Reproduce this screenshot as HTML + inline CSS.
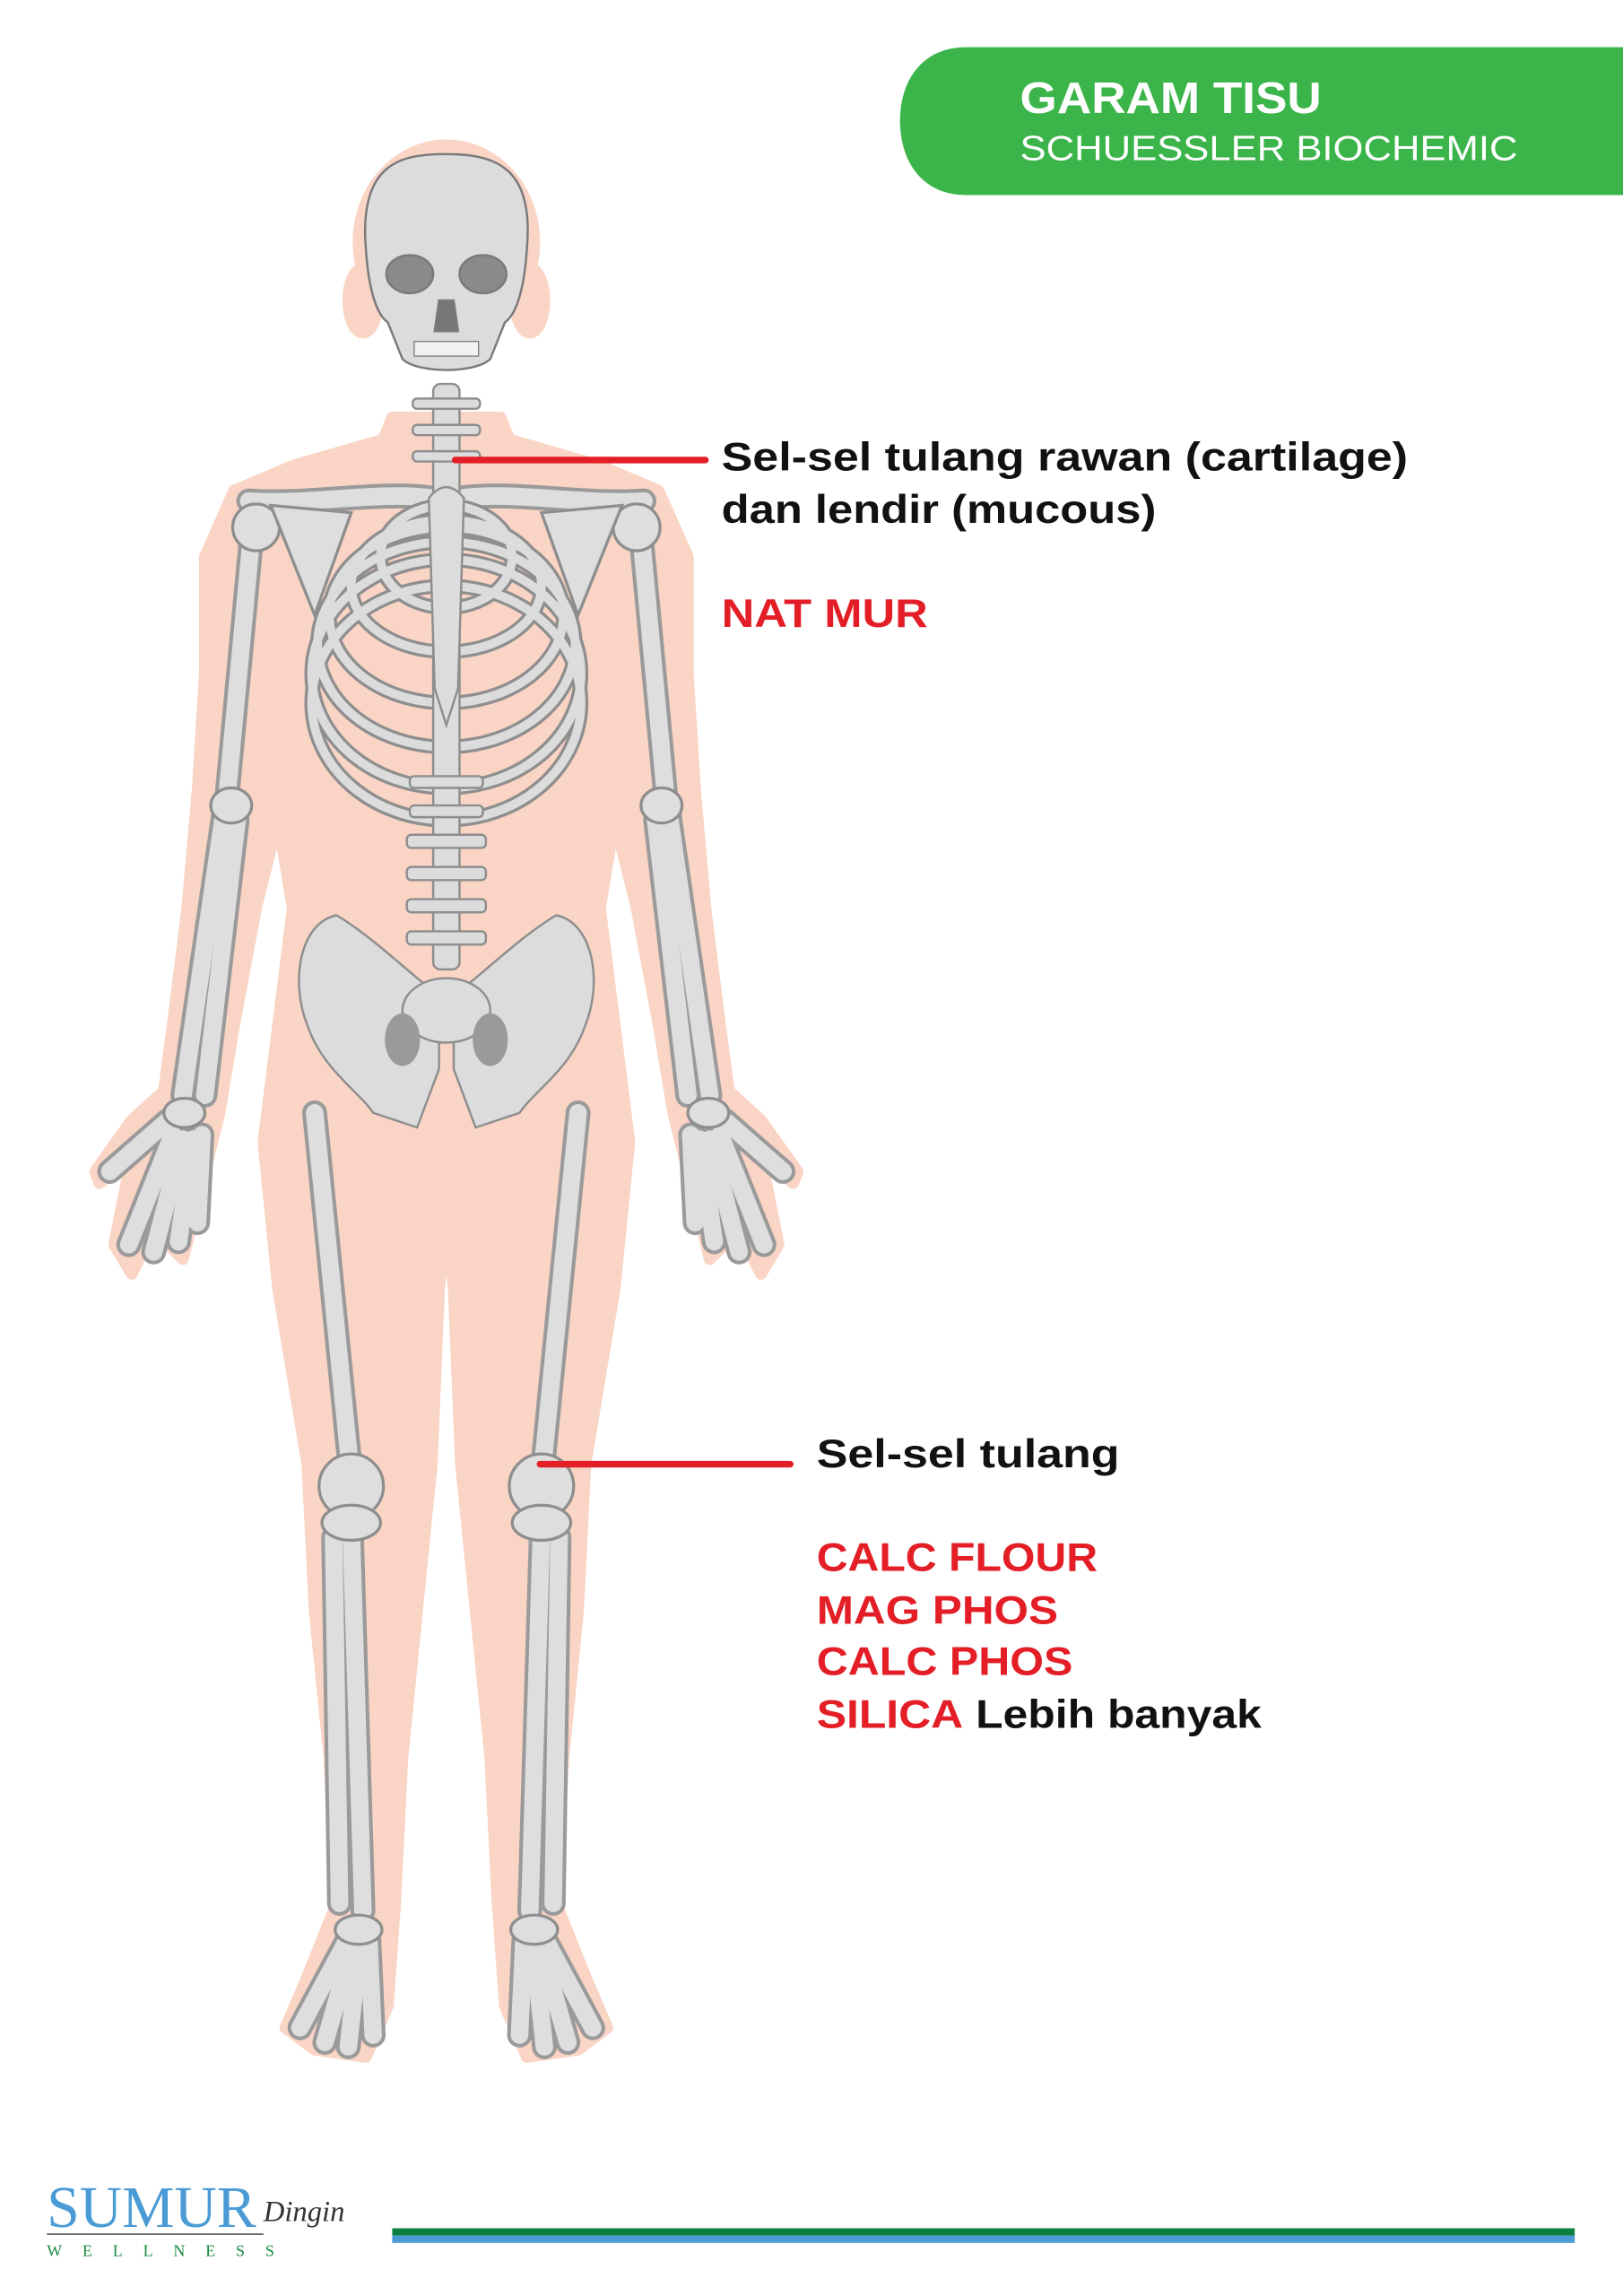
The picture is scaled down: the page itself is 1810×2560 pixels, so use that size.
<!DOCTYPE html>
<html><head><meta charset="utf-8"><style>
html,body{margin:0;padding:0;background:#fff;width:1810px;height:2560px;overflow:hidden}
svg{display:block}
</style></head><body>
<svg width="1810" height="2560" viewBox="0 0 1109 1568" xmlns="http://www.w3.org/2000/svg">
<defs>
<g id="half">
<polygon points="305,285 268,285 262,300 200,318 160,335 140,380 140,460 135,540 128,620 118,700 112,745 90,765 65,800 68,808 90,790 78,850 90,870 105,840 125,860 140,800 150,760 160,700 175,620 190,560 200,620 190,700 180,780 190,880 210,1000 215,1100 225,1200 230,1300 210,1350 195,1385 215,1400 250,1405 265,1370 270,1300 275,1200 285,1100 295,1000 300,880 305,830"/>
</g>
<g id="bones">
<path d="M295,340 C260,335 210,345 170,342"/>
<path d="M172,365 L155,545"/>
<path d="M153,555 L125,748"/>
<path d="M162,560 L140,748"/>
<path d="M115,765 L75,800"/><path d="M118,775 L88,850"/><path d="M125,778 L105,855"/><path d="M132,778 L122,848"/><path d="M138,775 L135,835"/>
<path d="M215,760 L240,1010"/>
<path d="M240,1045 L248,1305"/>
<path d="M228,1050 L232,1300"/>
<path d="M240,1320 L205,1385"/><path d="M242,1325 L222,1395"/><path d="M246,1325 L238,1398"/><path d="M252,1325 L255,1390"/>
</g>
</defs>
<g fill="#fad4c4" stroke="#fad4c4" stroke-width="8" stroke-linejoin="round">
<use href="#half"/>
<use href="#half" transform="translate(610,0) scale(-1,1)"/>
<ellipse cx="305" cy="165" rx="60" ry="66"/>
<ellipse cx="248" cy="205" rx="10" ry="22"/><ellipse cx="362" cy="205" rx="10" ry="22"/>
</g>
<g fill="none" stroke-linecap="round">
<g stroke="#9a9a9a" stroke-width="17"><use href="#bones"/><use href="#bones" transform="translate(610,0) scale(-1,1)"/></g>
<g stroke="#dedede" stroke-width="12"><use href="#bones"/><use href="#bones" transform="translate(610,0) scale(-1,1)"/></g>
</g>
<g fill="#dedede" stroke="#8e8e8e" stroke-width="2">
<circle cx="175" cy="360" r="16"/><circle cx="435" cy="360" r="16"/>
<ellipse cx="240" cy="1015" rx="22" ry="22"/><ellipse cx="370" cy="1015" rx="22" ry="22"/>
<ellipse cx="240" cy="1040" rx="20" ry="12"/><ellipse cx="370" cy="1040" rx="20" ry="12"/>
<ellipse cx="158" cy="550" rx="14" ry="12"/><ellipse cx="452" cy="550" rx="14" ry="12"/>
<ellipse cx="126" cy="760" rx="14" ry="10"/><ellipse cx="484" cy="760" rx="14" ry="10"/>
<ellipse cx="245" cy="1318" rx="16" ry="10"/><ellipse cx="365" cy="1318" rx="16" ry="10"/>
<path d="M185,345 L240,350 L215,420 Z"/><path d="M425,345 L370,350 L395,420 Z"/>
</g>
<g fill="none" stroke="#8e8e8e" stroke-width="10">
<ellipse cx="305" cy="380" rx="45" ry="35"/>
<ellipse cx="305" cy="400" rx="65" ry="45"/>
<ellipse cx="305" cy="420" rx="80" ry="60"/>
<ellipse cx="305" cy="440" rx="88" ry="70"/>
<ellipse cx="305" cy="460" rx="92" ry="78"/>
<ellipse cx="305" cy="480" rx="92" ry="80"/>
</g>
<g fill="none" stroke="#dcdcdc" stroke-width="6">
<ellipse cx="305" cy="380" rx="45" ry="35"/>
<ellipse cx="305" cy="400" rx="65" ry="45"/>
<ellipse cx="305" cy="420" rx="80" ry="60"/>
<ellipse cx="305" cy="440" rx="88" ry="70"/>
<ellipse cx="305" cy="460" rx="92" ry="78"/>
<ellipse cx="305" cy="480" rx="92" ry="80"/>
</g>
<g fill="#dcdcdc" stroke="#8e8e8e" stroke-width="1.5">
<rect x="296" y="262" width="18" height="400" rx="5"/>
<rect x="282" y="272" width="46" height="7" rx="3"/><rect x="282" y="290" width="46" height="7" rx="3"/><rect x="282" y="308" width="46" height="7" rx="3"/>
<rect x="280" y="530" width="50" height="8" rx="3"/><rect x="280" y="550" width="50" height="8" rx="3"/><rect x="278" y="570" width="54" height="9" rx="3"/><rect x="278" y="592" width="54" height="9" rx="3"/><rect x="278" y="614" width="54" height="9" rx="3"/><rect x="278" y="636" width="54" height="9" rx="3"/>
<path d="M293,340 Q305,325 317,340 L313,470 L305,495 L297,470 Z"/>
<path d="M230,625 C205,630 198,670 210,700 C220,730 245,745 255,760 L285,770 L300,730 L300,680 C280,665 255,640 230,625 Z"/>
<path d="M380,625 C405,630 412,670 400,700 C390,730 365,745 355,760 L325,770 L310,730 L310,680 C330,665 355,640 380,625 Z"/>
<ellipse cx="305" cy="690" rx="30" ry="22"/>
</g>
<g fill="#9a9a9a"><ellipse cx="275" cy="710" rx="12" ry="18"/><ellipse cx="335" cy="710" rx="12" ry="18"/></g>
<g stroke="#7a7a7a" stroke-width="1.5">
<path d="M250,170 C245,110 275,105 305,105 C340,105 365,115 360,170 C358,200 352,215 345,220 L335,245 C325,255 285,255 275,245 L265,220 C258,215 252,200 250,170 Z" fill="#dcdcdc"/>
<ellipse cx="280" cy="187" rx="16" ry="13" fill="#8a8a8a"/>
<ellipse cx="330" cy="187" rx="16" ry="13" fill="#8a8a8a"/>
<path d="M300,205 L310,205 L313,226 L297,226 Z" fill="#777"/>
<rect x="283" y="233" width="44" height="10" fill="#f2f2f2" stroke-width="0.8"/>
</g>
<path d="M660,32 L1109,32 L1109,133 L660,133 C630,133 615,110 615,82 C615,55 630,32 660,32 Z" fill="#3bb54a"/>
<g font-family="Liberation Sans, sans-serif" fill="#fff">
<text x="697" y="77" font-size="30" font-weight="bold" textLength="206" lengthAdjust="spacingAndGlyphs">GARAM TISU</text>
<text x="697" y="109" font-size="24" textLength="340" lengthAdjust="spacingAndGlyphs">SCHUESSLER BIOCHEMIC</text>
</g>
<g stroke="#e41e26" stroke-width="4.5" stroke-linecap="round">
<line x1="311" y1="314" x2="482" y2="314"/>
<line x1="369" y1="1000" x2="540" y2="1000"/>
</g>
<g font-family="Liberation Sans, sans-serif" font-weight="bold" font-size="27" lengthAdjust="spacingAndGlyphs">
<text x="493" y="321" fill="#111" textLength="469" lengthAdjust="spacingAndGlyphs">Sel-sel tulang rawan (cartilage)</text>
<text x="493" y="357" fill="#111" textLength="297" lengthAdjust="spacingAndGlyphs">dan lendir (mucous)</text>
<text x="493" y="428" fill="#e41e26" textLength="141" lengthAdjust="spacingAndGlyphs">NAT MUR</text>
<text x="558" y="1002" fill="#111" textLength="207" lengthAdjust="spacingAndGlyphs">Sel-sel tulang</text>
<text x="558" y="1073" fill="#e41e26" textLength="192" lengthAdjust="spacingAndGlyphs">CALC FLOUR</text>
<text x="558" y="1109" fill="#e41e26" textLength="165" lengthAdjust="spacingAndGlyphs">MAG PHOS</text>
<text x="558" y="1144" fill="#e41e26" textLength="175" lengthAdjust="spacingAndGlyphs">CALC PHOS</text>
<text x="558" y="1180" textLength="304" lengthAdjust="spacingAndGlyphs"><tspan fill="#e41e26">SILICA</tspan><tspan fill="#111"> Lebih banyak</tspan></text>
</g>
<rect x="268" y="1522" width="808" height="5" fill="#0a8040"/>
<rect x="268" y="1527" width="808" height="5" fill="#4a9bd5"/>
<text x="32" y="1521" font-family="Liberation Serif, serif" font-size="40" fill="#4a9bd5" textLength="143" lengthAdjust="spacingAndGlyphs">SUMUR</text>
<text x="180" y="1517" font-family="Liberation Serif, serif" font-style="italic" font-size="20" fill="#333">Dingin</text>
<line x1="32" y1="1526" x2="180" y2="1526" stroke="#555" stroke-width="1"/>
<text x="32" y="1541" font-family="Liberation Serif, serif" font-size="11" fill="#1a8a40" letter-spacing="14">WELLNESS</text>
</svg>
</body></html>
